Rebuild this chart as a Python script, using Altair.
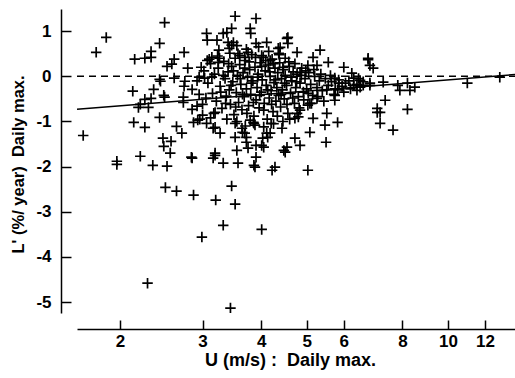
import altair as alt
import pandas as pd

# ---- data (U in m/s, L' in %/year) ----
left_pts = [(2.49,1.19),(1.87,0.86),(1.78,0.53),(2.43,0.73),(2.33,0.55),(2.15,0.38),(2.26,0.40),(2.33,0.42),
            (2.74,0.53),(2.61,0.38),(2.52,0.22),(2.58,0.27),(2.79,0.18),(2.43,-0.07),(2.44,-0.11),(2.61,-0.04),
            (2.75,-0.11),(2.95,-0.02),(2.36,-0.29),(2.48,-0.42),(2.13,-0.33),(2.74,-0.22),(2.85,-0.29),(2.26,-0.51),
            (2.33,-0.49),(2.21,-0.62),(2.19,-0.69),(2.30,-0.69),(2.49,-0.46),(2.73,-0.46),(2.73,-0.58),(2.85,-0.73),
            (2.92,-0.66),(2.43,-0.91),(2.14,-1.02),(2.26,-1.13),(2.64,-1.11),(2.71,-1.26),(2.87,-1.02),(2.96,-0.95),
            (1.67,-1.31),(2.47,-1.37),(2.57,-1.44),(2.48,-1.55),(2.56,-1.70),(2.21,-1.77),(1.97,-1.88),(1.97,-1.95),
            (2.35,-1.97),(2.52,-1.99),(2.84,-1.79)]
low_pts = [(2.50,-2.46),(2.64,-2.54),(2.87,-2.63),(3.20,-2.74),(3.46,-2.43),(3.52,-2.83),(3.32,-3.30),(2.99,-3.56),
           (4.01,-3.39),(2.29,-4.58),(3.44,-5.13),(4.22,-2.08),
           (3.00,-0.86),(2.93,-0.97),(3.06,-1.04),(3.16,-1.15),(3.27,-1.26),(3.52,-1.35),(3.72,-1.35),(3.64,-1.15),
           (3.79,-0.97),(3.88,-1.08),(4.11,-1.26),(4.13,-1.35),(4.01,-1.53),(3.55,-1.64),(3.75,-1.59),(3.72,-1.46),
           (3.19,-1.75),(3.32,-1.92),(3.57,-1.92),(3.88,-2.01),(3.90,-1.79),(4.28,-2.01),(4.54,-1.57),(2.85,-1.81),
           (3.19,-1.13),(3.90,-1.53),(4.05,-1.57),(4.03,-1.37),(3.19,-1.70),(3.16,-1.81),(3.86,-1.97),(4.47,-1.64),
           (3.17,-0.82),(3.65,-1.24),(3.69,-1.26),(3.52,-1.04),(3.86,-1.04),(4.20,-1.04),(4.43,-1.15),(4.18,-1.26)]
high_pts = [(3.52,1.33),(3.90,1.28),(3.06,0.95),(3.07,0.80),(3.22,0.80),(3.32,0.95),(3.38,0.97),(3.46,1.06),
            (3.79,1.06),(3.80,0.95),(3.49,0.75),(3.46,0.69),(4.11,0.75),(3.90,0.73),(4.39,0.64),(4.54,0.84),
            (3.43,0.51),(3.60,0.46),(3.75,0.53),(4.01,0.46),(4.36,0.51),(3.07,0.35),(3.24,0.31),(3.03,-0.04),
            (3.14,0.42),(3.26,0.40),(3.69,0.42),(4.18,0.35),(3.40,0.75)]
right_pts = [(4.56,0.86),(4.56,0.73),(4.77,0.53),(5.34,0.58),(5.16,0.42),(4.50,0.40),(5.56,0.31),(6.00,0.20),
             (6.76,0.40),(6.82,0.24),(6.24,0.07),(5.26,0.24),(5.03,0.24),(4.84,0.09),(5.74,-0.04),(5.86,-0.15),
             (5.74,-0.42),(5.74,-0.53),(5.26,-0.49),(5.08,-0.60),
             (5.52,-0.82),(5.82,-1.02),(5.16,-0.93),(5.47,-1.08),(5.08,-1.24),(5.50,-1.46),(4.72,-0.93),(4.77,-0.82),
             (4.84,-0.75),(5.03,-0.64),(4.72,-1.37),(4.84,-1.53),(4.50,-1.68),(5.03,-2.08),
             (6.76,0.37),(6.93,0.18),(6.60,-0.20),(6.82,-0.20),(7.28,-0.13),(7.82,-0.20),(7.90,-0.31),(8.20,-0.15),
             (8.30,-0.31),(8.50,-0.24),(11.0,-0.15),(12.9,-0.02),(7.35,-0.53),(7.07,-0.71),(7.17,-0.80),(7.07,-0.80),
             (7.17,-1.04),(7.64,-1.19),(8.20,-0.73),(6.30,-0.04),(6.50,-0.09),(6.50,-0.24),(6.82,-0.15),(6.40,-0.31)]
core_a = [(3.02,0.12),(3.08,-0.15),(3.12,0.28),(3.15,-0.38),(3.18,0.05),(3.21,-0.55),(3.24,0.18),(3.27,-0.22),
          (3.30,-0.71),(3.33,0.33),(3.35,-0.05),(3.37,-0.44),(3.40,0.10),(3.42,-0.30),(3.44,-0.62),(3.46,0.22),
          (3.48,-0.12),(3.50,-0.85),(3.52,0.40),(3.54,-0.36),(3.56,0.02),(3.58,-0.58),(3.60,0.26),(3.62,-0.18),
          (3.64,-0.74),(3.66,0.08),(3.68,-0.45),(3.70,0.35),(3.72,-0.28),(3.74,-0.02),(3.76,-0.65),(3.78,0.15),
          (3.80,-0.40),(3.82,0.48),(3.84,-0.10),(3.86,-0.88),(3.88,0.20),(3.90,-0.52),(3.92,-0.25),(3.94,0.05),
          (3.96,-0.70),(3.98,0.30),(4.00,-0.35),(4.02,-0.08),(4.04,0.42),(4.06,-0.60),(4.08,0.12),(4.10,-0.20),
          (4.12,-0.95),(4.14,0.25),(4.16,-0.48),(4.18,0.00),(4.20,-0.32),(4.22,0.38),(4.24,-0.78),(4.26,-0.14),
          (4.28,0.18),(4.30,-0.55),(4.32,-0.25),(4.34,0.08),(4.36,-0.42),(4.38,0.30),(4.40,-0.68),(4.42,-0.05),
          (4.44,-0.30),(4.46,0.15),(4.48,-0.50),(4.50,0.02),(4.53,-0.20),(4.56,-0.82),(4.59,0.22),(4.62,-0.38),
          (4.65,-0.10),(4.68,0.10),(4.71,-0.60),(4.74,-0.25),(4.77,0.05),(4.80,-0.45),(4.84,-0.15),(4.88,0.18),
          (4.92,-0.35),(4.96,-0.05),(5.00,-0.28),(5.05,0.08),(5.10,-0.18),(5.15,-0.42),(5.20,0.00),(5.26,-0.25),
          (5.32,-0.10),(5.40,-0.32),(5.48,-0.05),(5.56,-0.20),(5.65,-0.12),(5.75,-0.28),(5.85,-0.08),(5.95,-0.22),
          (6.05,-0.15),(6.15,-0.10),(6.30,-0.20),(6.45,-0.05)]
core_b = [(3.05,-0.48),(3.10,0.38),(3.14,-0.02),(3.19,-0.80),(3.23,0.45),(3.28,-0.35),(3.32,0.02),(3.36,-0.60),
          (3.41,0.28),(3.45,-0.20),(3.49,0.12),(3.53,-0.68),(3.57,0.50),(3.61,-0.05),(3.65,-0.40),(3.69,0.18),
          (3.73,-0.82),(3.77,0.32),(3.81,-0.15),(3.85,-0.58),(3.89,0.42),(3.93,-0.02),(3.97,-0.42),(4.01,0.22),
          (4.05,-0.75),(4.09,0.35),(4.13,-0.30),(4.17,0.10),(4.21,-0.62),(4.25,0.28),(4.29,-0.08),(4.33,-0.88),
          (4.37,0.48),(4.41,-0.40),(4.45,0.20),(4.49,-0.15),(4.54,-0.62),(4.58,0.32),(4.63,-0.02),(4.67,-0.48),
          (4.72,0.28),(4.76,-0.12),(4.82,-0.70),(4.87,0.02),(4.93,-0.52),(4.98,0.12),(5.04,-0.38),(5.12,-0.60),
          (5.18,0.15),(5.28,-0.45),(5.36,0.05),(5.44,-0.55),(5.52,-0.30),(5.62,0.02),(5.72,-0.40),(5.82,-0.30),
          (6.00,-0.35),(6.20,-0.28),(6.40,-0.18),(6.60,-0.12)]
core_c = [(3.25,0.58),(3.42,0.62),(3.55,0.68),(3.72,0.60),(3.95,0.65),(4.15,0.55),(4.35,0.62),(3.38,-0.95),
          (3.55,-1.00),(3.70,-1.10),(3.85,-1.02),(4.05,-1.12),(4.25,-1.05),(4.45,-1.00),(4.60,-0.95),(4.80,-0.90),
          (3.12,-0.92),(3.00,-0.62),(2.95,-0.40),(2.98,0.20),(2.92,-0.10)]

fit_u = [1.62, 13.9]
fit_l = [-0.73, 0.04]
zero_u = [1.62, 13.9]
zero_l = [0.0, 0.0]
x_ticks = [2, 3, 4, 5, 6, 8, 10, 12]
y_ticks = [1, 0, -1, -2, -3, -4, -5]

all_pts = left_pts + low_pts + high_pts + right_pts + core_a + core_b + core_c
pts = pd.DataFrame({"u": [p[0] for p in all_pts], "l": [p[1] for p in all_pts]})
fit = pd.DataFrame({"u": fit_u, "l": fit_l})
zero = pd.DataFrame({"u": zero_u, "l": zero_l})

W, H = 438, 304
FONT = "Liberation Sans"
xs = alt.Scale(type="log", domain=[1.62, 13.9], nice=False)
ys = alt.Scale(domain=[-5.24, 1.49], nice=False, zero=False)

PLUS = "M -1 0 L 1 0 M 0 -1 L 0 1"

points = alt.Chart(pts).mark_point(
    shape=PLUS, size=110, filled=False, stroke="black", strokeWidth=1.7, opacity=1, clip=True
).encode(
    x=alt.X("u:Q", scale=xs, axis=alt.Axis(
        orient="bottom", offset=16, values=x_ticks, ticks=False, tickSize=0, grid=False,
        labelPadding=4, labelFont=FONT, labelFontSize=17, labelFontWeight="bold", labelColor="black",
        labelExpr="'' + datum.value",
        domainColor="black", domainWidth=1.5,
        title="U (m/s) :\u00a0\u00a0Daily max.", titleFont=FONT, titleFontSize=18, titleFontWeight="bold",
        titleColor="black", titlePadding=2, titleX=213)),
    y=alt.Y("l:Q", scale=ys, axis=alt.Axis(
        orient="left", offset=16, values=y_ticks, ticks=False, tickSize=0, grid=False,
        labelPadding=10, labelFont=FONT, labelFontSize=17, labelFontWeight="bold", labelColor="black",
        labelExpr="'' + datum.value",
        domainColor="black", domainWidth=1.5,
        title="L' (%/ year)\u00a0\u00a0Daily max.", titleFont=FONT, titleFontSize=16.5, titleFontWeight="bold",
        titleColor="black", titlePadding=9, titleY=155)),
)

zero_line = alt.Chart(zero).mark_line(color="black", strokeWidth=1.4, strokeDash=[7, 5]).encode(
    x=alt.X("u:Q", scale=xs, axis=alt.Axis(
        orient="top", offset=-(H + 16), values=x_ticks, labels=False, domain=False, grid=False,
        ticks=True, tickSize=9, tickWidth=1.5, tickColor="black", title=None)),
    y=alt.Y("l:Q", scale=ys, axis=alt.Axis(
        orient="right", offset=-(W + 16), values=y_ticks, labels=False, domain=False, grid=False,
        ticks=True, tickSize=10, tickWidth=1.5, tickColor="black", title=None)),
)

fit_line = alt.Chart(fit).mark_line(color="black", strokeWidth=1.5).encode(
    x=alt.X("u:Q", scale=xs, axis=None),
    y=alt.Y("l:Q", scale=ys, axis=None),
)

chart = alt.layer(points, zero_line, fit_line).resolve_axis(
    x="independent", y="independent"
).properties(
    width=W, height=H,
    autosize=alt.AutoSizeParams(type="none"),
    padding={"left": 77, "top": 9, "right": 0, "bottom": 65},
    background="white",
).configure_view(stroke=None)

chart.save("out.html", embed_options={"renderer": "svg", "actions": False})
